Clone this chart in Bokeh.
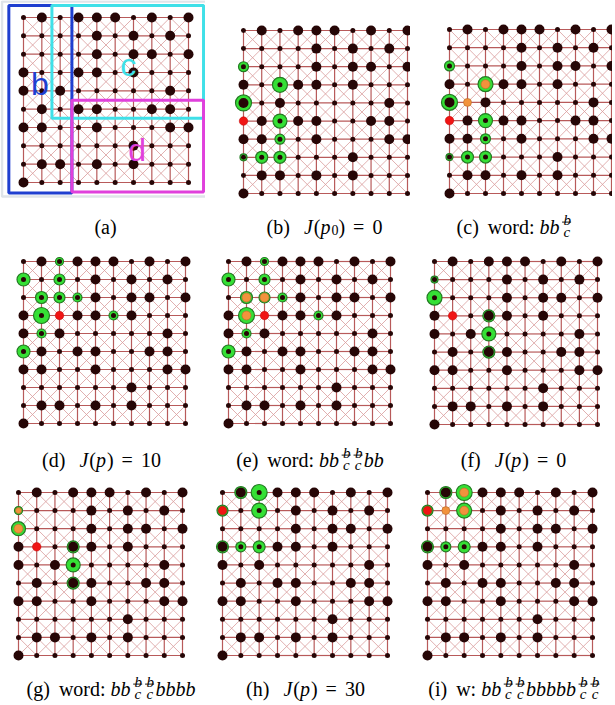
import numpy as np
from bokeh.plotting import figure
from bokeh.layouts import column, row
from bokeh.models import Range1d, ColumnDataSource
from bokeh.core.properties import value, field
from bokeh.embed import file_html
from bokeh.resources import INLINE

# ---------------- data ----------------
N_SIDE = 10
# columns holding a "big" node, listed row by row (row 0 = top)
BIG_COLS_BY_ROW = [
    [1, 3, 4, 5, 7, 9],
    [4, 6, 8],
    [4, 6, 7, 9],
    [0, 3, 4, 6],
    [0, 2, 8],
    [1, 3, 4, 7, 8],
    [0, 1, 4, 8, 9],
    [6],
    [1, 2, 4, 6],
    [0],
]

# highlighted nodes (col, row[, marker size])
RED_B = [(0, 5)]
GREEN_B = [(0, 2, 10), (2, 3, 15), (0, 4, 16), (2, 5, 14), (2, 6, 10),
           (0, 7, 7), (1, 7, 12), (2, 7, 12)]
ORANGE_C = [(2, 3, 9), (1, 4, 8)]
RED_D = [(2, 3)]
GREEN_D = [(2, 0, 8), (0, 1, 13), (2, 1, 11), (1, 2, 12), (2, 2, 11), (3, 2, 9),
           (1, 3, 16), (5, 3, 9), (1, 4, 9), (0, 5, 13)]
ORANGE_E = [(1, 2, 9), (2, 2, 9), (1, 3, 9)]
RED_F = [(1, 3)]
GREEN_F = [(0, 1, 7), (0, 2, 15), (3, 3, 12), (3, 4, 14), (3, 5, 12)]
GREEN_G = [(0, 1, 8), (0, 2, 14), (3, 3, 12), (3, 4, 14), (3, 5, 12)]
ORANGE_G = [(0, 1, 6), (0, 2, 9)]
RED_H = [(0, 1)]
GREEN_H = [(0, 1, 11), (1, 0, 12), (2, 0, 16), (2, 1, 15), (0, 3, 12), (1, 3, 10), (2, 3, 12)]
ORANGE_I = [(2, 0, 9), (1, 1, 8), (2, 1, 9)]

# regions marked in panel (a): name, left, right, top, bottom (lattice units)
REGION_NAMES = ["b", "c", "d"]
REGION_LEFT = [-0.8, 1.55, 2.64]
REGION_RIGHT = [2.64, 9.82, 9.82]
REGION_TOP = [-0.66, -0.66, 4.51]
REGION_BOTTOM = [9.57, 5.5, 9.52]
REGION_LABEL_X = [0.9, 5.72, 6.2]
REGION_LABEL_Y = [3.6, 2.6, 7.25]
REGION_COLORS = ["#1f3fd0", "#3fe0e8", "#e040dc"]

# captions: (kind, text)
CAPTION_A = [("r", "(a)")]
CAPTION_B = [("r", "(b)"), ("sp", "0.7"), ("i", "J"), ("r", "("), ("i", "p"), ("sub", "0"),
             ("r", ")"), ("sp", "0.4"), ("r", "="), ("sp", "0.4"), ("r", "0")]
CAPTION_C = [("r", "(c)"), ("sp", "0.45"), ("r", "word:"), ("sp", "0.25"), ("i", "bb"), ("frac", "b/c")]
CAPTION_D = [("r", "(d)"), ("sp", "0.7"), ("i", "J"), ("r", "("), ("i", "p"), ("r", ")"),
             ("sp", "0.4"), ("r", "="), ("sp", "0.4"), ("r", "10")]
CAPTION_E = [("r", "(e)"), ("sp", "0.45"), ("r", "word:"), ("sp", "0.25"), ("i", "bb"),
             ("frac", "b/c"), ("frac", "b/c"), ("i", "bb")]
CAPTION_F = [("r", "(f)"), ("sp", "0.7"), ("i", "J"), ("r", "("), ("i", "p"), ("r", ")"),
             ("sp", "0.4"), ("r", "="), ("sp", "0.4"), ("r", "0")]
CAPTION_G = [("r", "(g)"), ("sp", "0.45"), ("r", "word:"), ("sp", "0.25"), ("i", "bb"),
             ("frac", "b/c"), ("frac", "b/c"), ("i", "bbbb")]
CAPTION_H = [("r", "(h)"), ("sp", "0.7"), ("i", "J"), ("r", "("), ("i", "p"), ("r", ")"),
             ("sp", "0.4"), ("r", "="), ("sp", "0.4"), ("r", "30")]
CAPTION_I = [("r", "(i)"), ("sp", "0.45"), ("r", "w:"), ("sp", "0.25"), ("i", "bb"),
             ("frac", "b/c"), ("frac", "b/c"), ("i", "bbbbb"), ("frac", "b/c"), ("frac", "b/c")]

PANEL_KEYS = list("abcdefghi")
PANELS = {
    "a": ([], [], [], CAPTION_A),
    "b": (RED_B, GREEN_B, [], CAPTION_B),
    "c": (RED_B, GREEN_B, ORANGE_C, CAPTION_C),
    "d": (RED_D, GREEN_D, [], CAPTION_D),
    "e": (RED_D, GREEN_D, ORANGE_E, CAPTION_E),
    "f": (RED_F, GREEN_F, [], CAPTION_F),
    "g": (RED_F, GREEN_G, ORANGE_G, CAPTION_G),
    "h": (RED_H, GREEN_H, [], CAPTION_H),
    "i": (RED_H, GREEN_H, ORANGE_I, CAPTION_I),
}

# ---------------- layout (page pixels) ----------------
ORIGIN_X, ORIGIN_Y = 0, 0
FIG_W = [205, 205, 202]
FIG_H = [245, 230, 229]
# lattice corner nodes on the page: x(col 0), x(col 9), y(row 0), y(row 9)
BOX = {
    "a": (23, 188, 17, 182), "b": (243, 407, 30, 193), "c": (449, 611, 29, 193),
    "d": (23, 185, 261, 423), "e": (228, 390, 261, 423), "f": (434, 597, 261, 424),
    "g": (18, 182, 492, 655), "h": (222, 387, 492, 655), "i": (427, 592, 492, 655),
}
CAP_CX = {"a": 105, "b": 324, "c": 514, "d": 101, "e": 310, "f": 513,
          "g": 111, "h": 305, "i": 514}
CAP_BASE = [226, 459, 688]

FS = 20.0
SFS = 15.0
FRAC_PAD = 2.2
W_ROMAN = {' ': 250, '(': 333, ')': 333, ':': 278, '=': 564, '0': 500, '1': 500, '3': 500,
           'a': 444, 'b': 500, 'c': 444, 'd': 500, 'e': 444, 'f': 333, 'g': 500, 'h': 500,
           'i': 278, 'o': 500, 'r': 333, 'w': 722}
W_ITALIC = {'J': 444, 'p': 500, 'b': 500, 'c': 444}

EDGE_COLOR = "#b85a5a"
DIAG_COLOR = "#d99c9c"
NODE_COLOR = "#260606"


def run_w(s, table, size):
    return sum(table[ch] for ch in s) / 1000.0 * size


def tok_w(t):
    kind, s = t
    if kind == "r":
        return run_w(s, W_ROMAN, FS)
    if kind == "i":
        return run_w(s, W_ITALIC, FS) + 0.05 * FS
    if kind == "sub":
        return run_w(s, W_ROMAN, 0.7 * FS)
    if kind == "sp":
        return float(s) * FS
    n, d = s.split("/")
    return max(run_w(n, W_ITALIC, SFS), run_w(d, W_ITALIC, SFS)) + 2 * FRAC_PAD


def layout_caption(tokens, cx, base):
    items, bars = [], []
    x = cx - sum(tok_w(t) for t in tokens) / 2.0
    for t in tokens:
        kind, s = t
        w = tok_w(t)
        if kind == "r":
            items.append((x, base, s, "normal", FS))
        elif kind == "i":
            items.append((x, base, s, "italic", FS))
        elif kind == "sub":
            items.append((x, base + 3.0, s, "normal", 0.7 * FS))
        elif kind == "frac":
            n, d = s.split("/")
            inner = w - 2 * FRAC_PAD
            wn, wd = run_w(n, W_ITALIC, SFS), run_w(d, W_ITALIC, SFS)
            items.append((x + FRAC_PAD + (inner - wn) / 2 + 0.8, base - 6.6, n, "italic", SFS))
            items.append((x + FRAC_PAD + (inner - wd) / 2 + 0.3, base + 5.0, d, "italic", SFS))
            bars.append((x + FRAC_PAD - 0.6, x + FRAC_PAD + inner + 0.9, base - 4.4))
        x += w
    return items, bars


def make_panel(key, ci, ri):
    W, H = FIG_W[ci], FIG_H[ri]
    fx = ORIGIN_X + sum(FIG_W[:ci])
    fy = ORIGIN_Y + sum(FIG_H[:ri])
    X0, X9, Y0, Y9 = BOX[key]
    sx = (X9 - X0) / (N_SIDE - 1)
    sy = (Y9 - Y0) / (N_SIDE - 1)
    xs = -(X0 - fx) / sx
    xe = xs + W / sx
    yt = -(Y0 - fy) / sy
    yb = yt + H / sy

    def dx(px):
        return xs + (px - fx) / sx

    def dy(py):
        return yt + (py - fy) / sy

    p = figure(width=W, height=H, x_range=Range1d(xs, xe), y_range=Range1d(yb, yt),
               output_backend="svg", toolbar_location=None,
               x_axis_location=None, y_axis_location=None, min_border=0)
    p.title.visible = False
    p.outline_line_color = None
    p.background_fill_color = "white"
    p.border_fill_color = "white"
    p.grid.grid_line_color = None

    red, green, orange, caption = PANELS[key]

    if key == "a":
        p.quad(left=[dx(1.5)], right=[dx(206)], top=[dy(1)], bottom=[dy(196)],
               fill_color=None, line_color="#dfe4e9", line_width=2.5)

    # lattice edges
    idx = np.arange(N_SIDE)
    hx0, hy0 = np.meshgrid(idx[:-1], idx)
    h0x, h0y = hx0.ravel(), hy0.ravel()
    cx_, cy_ = np.meshgrid(idx[:-1], idx[:-1])
    cx_, cy_ = cx_.ravel(), cy_.ravel()
    p.segment(x0=np.concatenate([cx_, cx_ + 1]), y0=np.concatenate([cy_, cy_]),
              x1=np.concatenate([cx_ + 1, cx_]), y1=np.concatenate([cy_ + 1, cy_ + 1]),
              line_color=DIAG_COLOR, line_width=0.8)
    p.segment(x0=np.concatenate([h0x, h0y]), y0=np.concatenate([h0y, h0x]),
              x1=np.concatenate([h0x + 1, h0y]), y1=np.concatenate([h0y, h0x + 1]),
              line_color=EDGE_COLOR, line_width=1.2)

    # green rings (behind nodes)
    if green:
        g = np.array(green, dtype=float)
        p.scatter(x=g[:, 0], y=g[:, 1], size=g[:, 2], marker="circle",
                  fill_color="#35e035", line_color="#237a23", line_width=1.2)

    # nodes
    nx, ny, ns = [], [], []
    for r in range(N_SIDE):
        for c in range(N_SIDE):
            nx.append(c)
            ny.append(r)
            ns.append(10 if c in BIG_COLS_BY_ROW[r] else 5)
    p.scatter(x=nx, y=ny, size=ns, marker="circle", fill_color=NODE_COLOR, line_color=None)

    if orange:
        o = np.array(orange, dtype=float)
        p.scatter(x=o[:, 0], y=o[:, 1], size=o[:, 2], marker="circle",
                  fill_color="#f2923c", line_color="#b56a2a", line_width=0.6)
    if red:
        rr = np.array(red, dtype=float)
        p.scatter(x=rr[:, 0], y=rr[:, 1], size=8.5, marker="circle",
                  fill_color="#f01414", line_color="#c00000", line_width=0.5)

    if key == "a":
        p.quad(left=REGION_LEFT, right=REGION_RIGHT, top=REGION_TOP, bottom=REGION_BOTTOM,
               fill_color=None, line_color=REGION_COLORS, line_width=3)
        p.text(x=REGION_LABEL_X, y=REGION_LABEL_Y, text=REGION_NAMES,
               text_color=REGION_COLORS, text_font=value("Liberation Sans"),
               text_font_size="32px", text_align="center", text_baseline="middle")

    items, bars = layout_caption(caption, CAP_CX[key], CAP_BASE[ri])
    src = ColumnDataSource(dict(
        x=[dx(i[0]) for i in items], y=[dy(i[1]) for i in items],
        text=[i[2] for i in items], style=[i[3] for i in items],
        size=["%.1fpx" % i[4] for i in items]))
    p.text(x="x", y="y", text="text", source=src, text_font=value("Liberation Serif"),
           text_font_style=field("style"), text_font_size=field("size"),
           text_color="black", text_align="left", text_baseline="alphabetic")
    if bars:
        p.segment(x0=[dx(b[0]) for b in bars], x1=[dx(b[1]) for b in bars],
                  y0=[dy(b[2]) for b in bars], y1=[dy(b[2]) for b in bars],
                  line_color="black", line_width=0.9)
    return p


rows_ = []
for ri in range(3):
    rows_.append(row(*[make_panel(PANEL_KEYS[ri * 3 + ci], ci, ri) for ci in range(3)], spacing=0))
layout = column(*rows_, spacing=0)

open("out.html", "w").write(file_html(layout, INLINE))
